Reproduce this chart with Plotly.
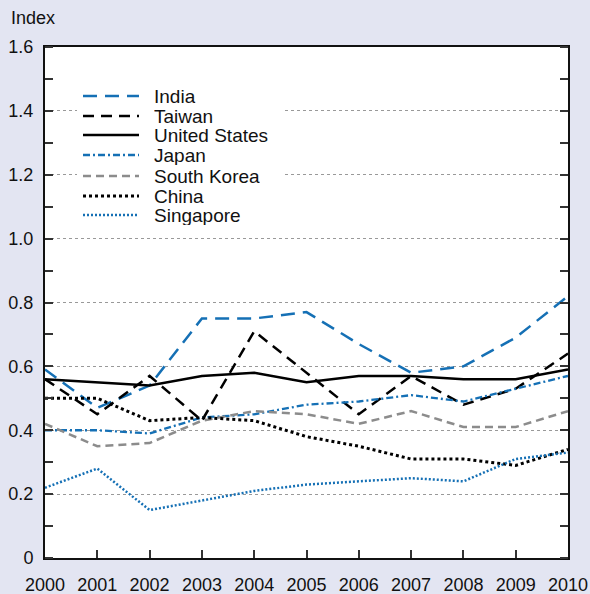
import plotly.graph_objects as go

years = [2000, 2001, 2002, 2003, 2004, 2005, 2006, 2007, 2008, 2009, 2010]
india = [0.59, 0.47, 0.54, 0.75, 0.75, 0.77, 0.67, 0.58, 0.60, 0.69, 0.82]
taiwan = [0.56, 0.45, 0.57, 0.43, 0.71, 0.58, 0.45, 0.57, 0.48, 0.53, 0.64]
united_states = [0.56, 0.55, 0.54, 0.57, 0.58, 0.55, 0.57, 0.57, 0.56, 0.56, 0.59]
japan = [0.40, 0.40, 0.39, 0.44, 0.45, 0.48, 0.49, 0.51, 0.49, 0.53, 0.57]
south_korea = [0.42, 0.35, 0.36, 0.43, 0.46, 0.45, 0.42, 0.46, 0.41, 0.41, 0.46]
china = [0.50, 0.50, 0.43, 0.44, 0.43, 0.38, 0.35, 0.31, 0.31, 0.29, 0.34]
singapore = [0.22, 0.28, 0.15, 0.18, 0.21, 0.23, 0.24, 0.25, 0.24, 0.31, 0.33]

y_tickvals = [0, 0.2, 0.4, 0.6, 0.8, 1.0, 1.2, 1.4, 1.6]
y_ticktext = ["0", "0.2", "0.4", "0.6", "0.8", "1.0", "1.2", "1.4", "1.6"]

BLUE = "#1570b5"
GREY = "#8c8c8c"
BG = "#e3e5f2"
FONT = "Liberation Sans, Arial, Helvetica, sans-serif"

series = [
    ("India", india, BLUE, "14px,8px", 2.5),
    ("Taiwan", taiwan, "#000000", "11px,7px", 2.5),
    ("United States", united_states, "#000000", "solid", 2.5),
    ("Japan", japan, BLUE, "7px,3px,2px,3px", 2.3),
    ("South Korea", south_korea, GREY, "8px,5px", 2.5),
    ("China", china, "#000000", "3px,3px", 3),
    ("Singapore", singapore, BLUE, "2px,2px", 2.5),
]

fig = go.Figure()
for name, vals, color, dash, w in series:
    fig.add_trace(go.Scatter(x=years, y=vals, mode="lines", name=name,
                             line=dict(color=color, dash=dash, width=w),
                             showlegend=False))

# plot area in pixels
L, R, T, B = 45, 568, 47, 558
W, H = 590, 594


def px(x):
    return (x - L) / (R - L)


def py(y):
    return (B - y) / (B - T)


shapes = [dict(type="rect", xref="paper", yref="paper",
               x0=px(77), x1=px(282), y0=py(228), y1=py(84),
               fillcolor="white", line=dict(width=0), layer="above")]
annotations = []
row_y = [96, 116, 135, 155, 176, 196, 215]
for (name, vals, color, dash, w), yy in zip(series, row_y):
    shapes.append(dict(type="line", xref="paper", yref="paper",
                       x0=px(83), x1=px(139), y0=py(yy), y1=py(yy),
                       line=dict(color=color, dash=dash, width=w), layer="above"))
    annotations.append(dict(text=name, xref="paper", yref="paper",
                            x=px(152), y=py(yy), xanchor="left", yanchor="middle",
                            height=19, valign="middle",
                            showarrow=False, font=dict(size=19, color="#111111", family=FONT)))

annotations.append(dict(text="Index", xref="paper", yref="paper",
                        x=px(9), y=py(18), xanchor="left", yanchor="middle",
                        showarrow=False, font=dict(size=18, color="#111111", family=FONT)))

fig.update_layout(
    width=W, height=H,
    margin=dict(l=L, r=W - R, t=T, b=H - B, autoexpand=False),
    paper_bgcolor=BG,
    plot_bgcolor="white",
    font=dict(family=FONT, size=18, color="#111111"),
    shapes=shapes,
    annotations=annotations,
    showlegend=False,
)
fig.update_xaxes(
    range=[2000, 2010], tickvals=years, ticktext=[str(y) for y in years],
    ticks="inside", ticklen=8, tickwidth=1.5, tickcolor="#333333",
    showgrid=False, zeroline=False, automargin=False,
    showline=True, linecolor="#111111", linewidth=2, mirror=True,
    ticklabelstandoff=9,
)
fig.update_yaxes(
    range=[0, 1.6], tickvals=y_tickvals, ticktext=y_ticktext,
    ticks="", showgrid=True, gridcolor="#999999", gridwidth=1, griddash="3px,3px",
    zeroline=False, automargin=False,
    showline=True, linecolor="#111111", linewidth=2, mirror="ticks",
    minor=dict(dtick=0.1, ticks="inside", ticklen=8, tickwidth=1.5, tickcolor="#333333", showgrid=False),
    ticklabelstandoff=6,
)

fig.write_html(
    "out.html",
    config={"displayModeBar": False},
    post_script="document.body.style.margin='0';document.body.style.background='" + BG + "';",
)
